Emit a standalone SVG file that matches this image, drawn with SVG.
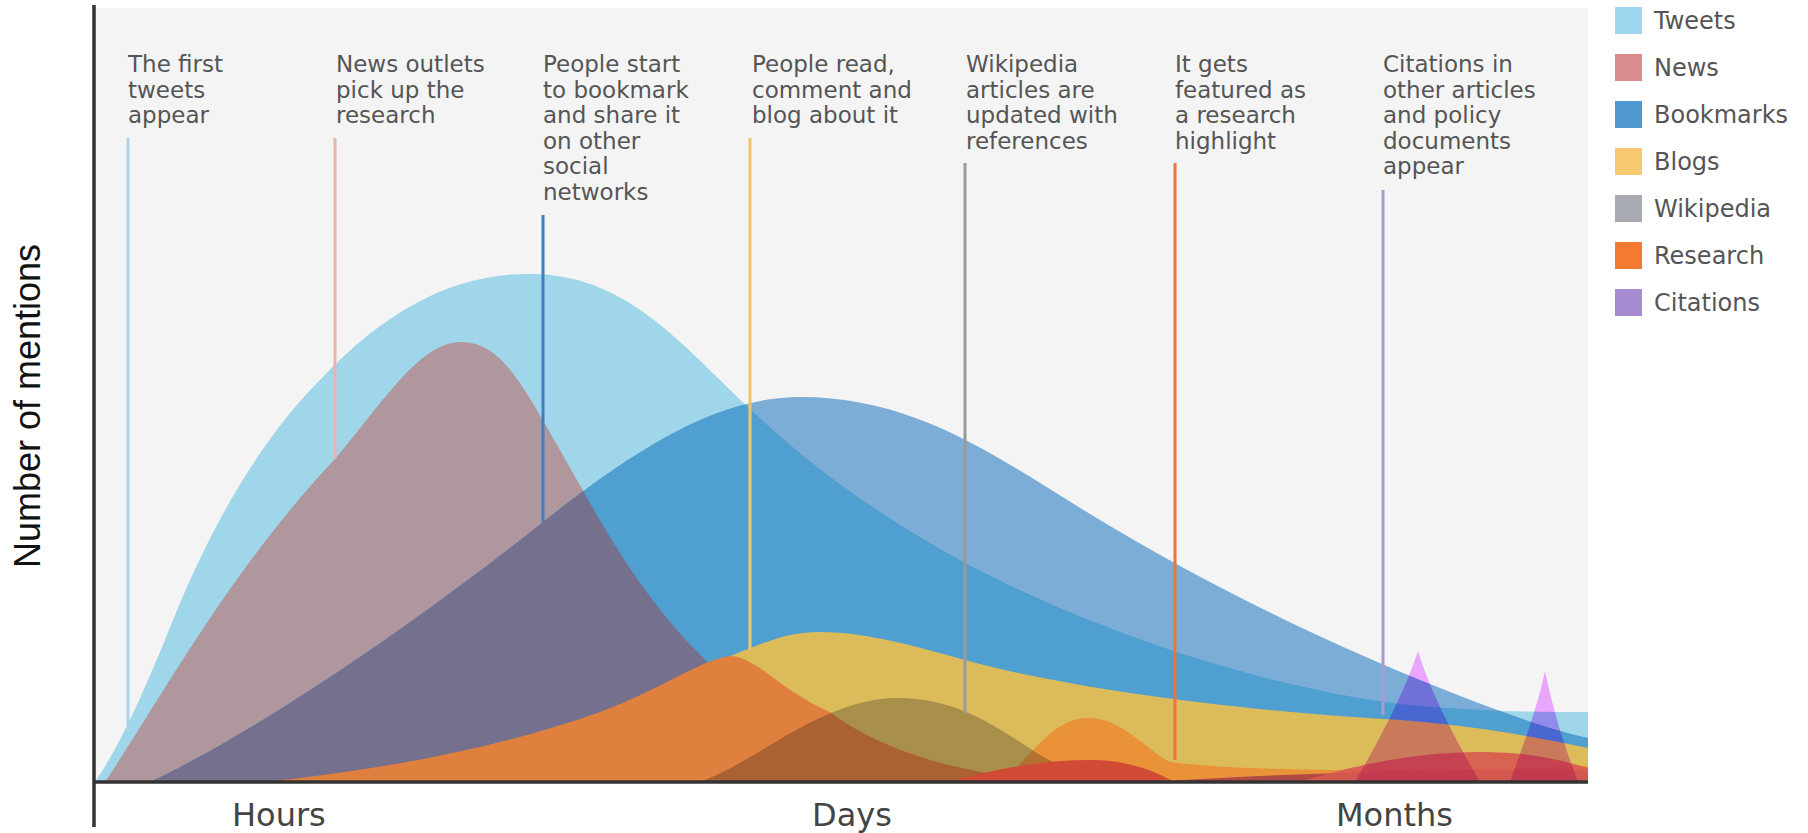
<svg xmlns="http://www.w3.org/2000/svg" width="1808" height="833" viewBox="0 0 1808 833">
<defs>
<style>
.ann{font-family:"DejaVu Sans",sans-serif;font-size:23px;fill:#555}
.leg{font-family:"DejaVu Sans",sans-serif;font-size:24px;fill:#555}
.ax{font-family:"DejaVu Sans",sans-serif;font-size:32px;fill:#444}
.yl{font-family:"Liberation Sans",Arial,sans-serif;font-size:36px;fill:#111}
.mk{stroke-width:3;fill:none}
.mul{mix-blend-mode:multiply}
</style>
<path id="pTw" d="M95,782 C120,745 140,700 165,640 C200,550 250,450 320,380 C390,305 460,272 535,274 C610,276 660,320 720,380 C780,440 850,500 960,560 C1080,625 1250,685 1400,704 C1480,712 1540,712 1588,712 L1588,782 Z"/>
<path id="pNw" d="M105,782 C160,700 230,570 335,459 C385,400 420,342 461,342 C500,342 520,380 560,450 C600,520 640,600 715,669 C790,735 900,770 1080,782 Z"/>
<path id="pBm" d="M150,782 C260,730 420,620 543,522 C640,445 720,397 800,397 C920,397 1000,460 1100,520 C1200,580 1300,630 1420,680 C1500,712 1550,730 1588,738 L1588,782 Z"/>
<clipPath id="cTw"><use href="#pTw"/></clipPath>
<clipPath id="cNw"><use href="#pNw"/></clipPath>
</defs>
<rect width="1808" height="833" fill="#fff"/>
<g id="chart">
<rect id="plot-bg" x="95" y="8" width="1493" height="774" fill="#f4f4f4"/>
<g id="areas" style="isolation:isolate">
<use id="tweets-area" href="#pTw" fill="#a0d6ea"/>
<use id="news-area" href="#pNw" fill="#b0979d"/>
<use id="bookmarks-area" href="#pBm" fill="#7badd6"/>
<use href="#pBm" fill="#4f9fd0" clip-path="url(#cTw)"/>
<use href="#pBm" fill="#74708e" clip-path="url(#cNw)"/>
<path id="blogs-area" d="M480,782 C580,740 660,680 733,655 C770,640 790,632 820,632 C870,632 920,648 980,664 C1080,690 1250,712 1400,720 C1480,726 1540,738 1588,748 L1588,782 Z" fill="#dcbb5a"/>
<path id="research-area" d="M265,782 C380,770 500,748 600,712 C660,690 700,660 730,656 C755,656 780,690 830,712 C880,750 960,775 1060,782 Z" fill="#e0803e"/>
<path id="research-area-2" d="M1000,782 C1030,760 1050,720 1085,718 C1120,716 1140,745 1170,762 C1250,772 1400,772 1588,766 L1588,782 Z" fill="#ea9238"/>
<path id="wikipedia-area" class="mul" d="M700,782 C760,760 820,700 895,698 C960,697 1000,730 1040,755 C1070,772 1100,780 1130,782 Z" fill="#c3c4d2"/>
<path id="research-red" d="M950,782 C990,770 1040,760 1090,760 C1130,760 1155,772 1175,782 Z" fill="#d04a36"/>
<path id="late-red" d="M1150,782 C1250,776 1400,768 1588,770 L1588,782 Z" fill="#b04a44"/>
<path id="late-news" d="M1300,782 C1370,760 1430,752 1480,752 C1530,752 1560,760 1588,768 L1588,782 Z" fill="#d85a50" opacity="0.9"/>
<path id="citations-1" class="mul" d="M1355,782 C1385,730 1405,690 1418,651 C1430,690 1450,730 1480,782 Z" fill="#e9a6ff"/>
<path id="citations-2" class="mul" d="M1510,782 C1525,740 1538,705 1545,671 C1552,705 1562,740 1578,782 Z" fill="#e9a6ff"/>
</g>
<g id="connectors">
<line class="mk" x1="128" y1="138" x2="128" y2="732" stroke="#a9d3ea"/>
<line class="mk" x1="335" y1="138" x2="335" y2="459" stroke="#e8b4ae"/>
<line class="mk" x1="543" y1="215" x2="543" y2="522" stroke="#3f7fc0"/>
<line class="mk" x1="750" y1="138" x2="750" y2="650" stroke="#f2c46a"/>
<line class="mk" x1="965" y1="163" x2="965" y2="714" stroke="#9a9a9a"/>
<line class="mk" x1="1175" y1="163" x2="1175" y2="760" stroke="#e8773a" stroke-width="4"/>
<line class="mk" x1="1383" y1="190" x2="1383" y2="715" stroke="#ab9ad2"/>
</g>
<g id="axes" stroke="#333" stroke-width="3.5">
<line x1="94" y1="5" x2="94" y2="827"/>
<line x1="94" y1="782" x2="1588" y2="782"/>
</g>
</g>
<g id="ann-tweets"><text class="ann" x="128" y="72">The first<tspan x="128" dy="25.5">tweets</tspan><tspan x="128" dy="25.5">appear</tspan></text></g>
<g id="ann-news"><text class="ann" x="336" y="72">News outlets<tspan x="336" dy="25.5">pick up the</tspan><tspan x="336" dy="25.5">research</tspan></text></g>
<g id="ann-bookmarks"><text class="ann" x="543" y="72">People start<tspan x="543" dy="25.5">to bookmark</tspan><tspan x="543" dy="25.5">and share it</tspan><tspan x="543" dy="25.5">on other</tspan><tspan x="543" dy="25.5">social</tspan><tspan x="543" dy="25.5">networks</tspan></text></g>
<g id="ann-blogs"><text class="ann" x="752" y="72">People read,<tspan x="752" dy="25.5">comment and</tspan><tspan x="752" dy="25.5">blog about it</tspan></text></g>
<g id="ann-wikipedia"><text class="ann" x="966" y="72">Wikipedia<tspan x="966" dy="25.5">articles are</tspan><tspan x="966" dy="25.5">updated with</tspan><tspan x="966" dy="25.5">references</tspan></text></g>
<g id="ann-research"><text class="ann" x="1175" y="72">It gets<tspan x="1175" dy="25.5">featured as</tspan><tspan x="1175" dy="25.5">a research</tspan><tspan x="1175" dy="25.5">highlight</tspan></text></g>
<g id="ann-citations"><text class="ann" x="1383" y="72">Citations in<tspan x="1383" dy="25.5">other articles</tspan><tspan x="1383" dy="25.5">and policy</tspan><tspan x="1383" dy="25.5">documents</tspan><tspan x="1383" dy="25.5">appear</tspan></text></g>
<g id="axis-labels">
<text class="yl" text-anchor="middle" transform="translate(40,406) rotate(-90)">Number of mentions</text>
<text class="ax" x="232" y="826">Hours</text>
<text class="ax" x="812" y="826">Days</text>
<text class="ax" x="1336" y="826">Months</text>
</g>
<g id="legend">
<g id="leg-tweets"><rect x="1615" y="7" width="27" height="27" fill="#9dd7ef"/><text class="leg" x="1654" y="29">Tweets</text></g>
<g id="leg-news"><rect x="1615" y="54" width="27" height="27" fill="#d98b8e"/><text class="leg" x="1654" y="76">News</text></g>
<g id="leg-bookmarks"><rect x="1615" y="101" width="27" height="27" fill="#4e97d0"/><text class="leg" x="1654" y="123">Bookmarks</text></g>
<g id="leg-blogs"><rect x="1615" y="148" width="27" height="27" fill="#f7c86f"/><text class="leg" x="1654" y="170">Blogs</text></g>
<g id="leg-wikipedia"><rect x="1615" y="195" width="27" height="27" fill="#a7aab1"/><text class="leg" x="1654" y="217">Wikipedia</text></g>
<g id="leg-research"><rect x="1615" y="242" width="27" height="27" fill="#f47a32"/><text class="leg" x="1654" y="264">Research</text></g>
<g id="leg-citations"><rect x="1615" y="289" width="27" height="27" fill="#a68bd0"/><text class="leg" x="1654" y="311">Citations</text></g>
</g>
</svg>
